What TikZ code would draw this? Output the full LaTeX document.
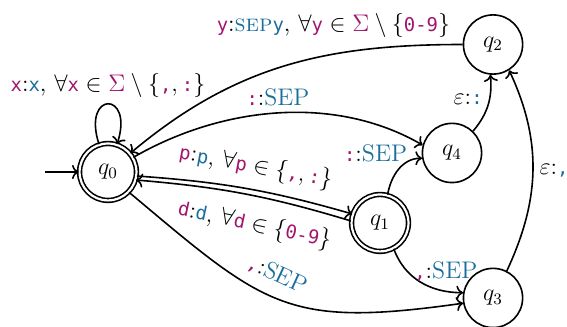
\documentclass[tikz,border=0pt,12pt]{standalone}
\usepackage{amsmath,amssymb}
\usepackage{fontspec}
\setmonofont{DejaVu Sans Mono}[Scale=MatchLowercase]
\usepackage{xcolor}
\usepackage{tikz}
\usetikzlibrary{arrows.meta,positioning,calc}
\definecolor{fstin}{HTML}{A0156E}
\definecolor{fstout}{HTML}{1B6E9C}
\newcommand{\inch}[1]{\textcolor{fstin}{\texttt{#1}}}
\newcommand{\outch}[1]{\textcolor{fstout}{\texttt{#1}}}
\newcommand{\sepout}{\textcolor{fstout}{SEP}}
\newcommand{\sepsc}{\textcolor{fstout}{\textsc{sep}}}

\begin{document}
\begin{tikzpicture}[
    x=1cm,y=1cm,
    st/.style  = {circle, draw, thick, minimum size=1.04cm, inner sep=0pt},
    acc/.style = {st, double, double distance=1.1pt, minimum size=1.0cm},
    tr/.style  = {->, thick},
    lb/.style  = {inner sep=3pt},
  ]

  \useasboundingbox (0,0) rectangle (9.964,5.746);

  % Etats
  \node[acc] (q0) at (1.898,2.724) {$q_0$};
  \node[acc] (q1) at (6.678,1.828) {$q_1$};
  \node[st]  (q4) at (7.943,3.058) {$q_4$};
  \node[st]  (q3) at (8.664,0.510) {$q_3$};
  \node[st]  (q2) at (8.664,4.964) {$q_2$};

  % Entree
  \coordinate (start) at (0.791,2.724);
  \draw[tr] (start) -- (q0);

  % Boucle sur q0
  \draw[tr] (q0.108) to[out=108,in=72,looseness=8,min distance=8mm]
       node[lb,above] {\inch{x}:\outch{x}, $\forall\inch{x}\in\textcolor{fstin}{\Sigma}\setminus\{\inch{,}, \inch{:}\}$} (q0.72);

  % Retour vers q0
  \draw[tr] (q2.west) to[out=180,in=40]
       node[lb,above=5pt,pos=0.35] {\inch{y}:\sepsc\outch{y}, $\forall\inch{y}\in\textcolor{fstin}{\Sigma}\setminus\{\inch{0-9}\}$} (q0.40);

  % Depuis q0
  \draw[tr] (q0.30) to[out=30,in=150,looseness=0.9]
       node[lb,above,pos=0.5] {\inch{:}:\sepout} (q4.165);
  \draw[tr] (q0.-8) to[bend left=6]
       node[lb,above=2pt,sloped,pos=0.53] {\inch{p}:\outch{p}, $\forall\inch{p}\in\{\inch{,}, \inch{:}\}$} (q1.162);
  \draw[tr] (q1.176) to[bend right=6]
       node[lb,below=5pt,sloped,pos=0.42] {\inch{d}:\outch{d}, $\forall\inch{d}\in\{\inch{0-9}\}$} (q0.-16);
  \draw[tr] (q0.-44) to[out=-40,in=188,looseness=1.3]
       node[lb,above=3pt,sloped,pos=0.45] {\inch{,}:\sepout} (q3.190);

  % Depuis q1
  \draw[tr] (q1.75) to[out=80,in=180]
       node[lb,left,pos=0.85,yshift=3pt] {\inch{:}:\sepout} (q4.190);
  \draw[tr] (q1.-62) to[out=-70,in=180]
       node[lb,right,pos=0.3] {\inch{,}:\sepout} (q3.170);

  % Vers q2
  \draw[tr] (q4.46) to[out=50,in=-85]
       node[lb,left,pos=0.6] {$\varepsilon$:\outch{:}} (q2.-95);
  \draw[tr] (q3.63) to[out=65,in=-65]
       node[lb,right] {$\varepsilon$:\outch{,}} (q2.-58);

\end{tikzpicture}
\end{document}
